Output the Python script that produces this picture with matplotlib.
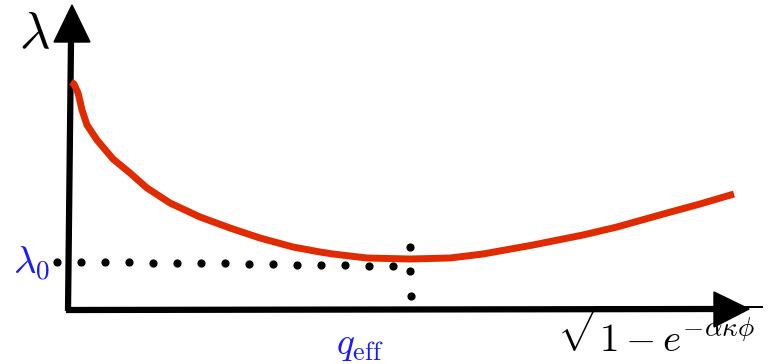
import numpy as np
import matplotlib.pyplot as plt

plt.rcParams['mathtext.fontset'] = 'cm'

# red curve (pixel-like units, y grows downward)
curve_x = [71, 74, 78, 80, 82, 87, 97, 113, 130, 147, 170, 200, 230, 260, 293,
           320, 333, 367, 410, 450, 483, 533, 583, 617, 667, 700, 734]
curve_y = [82, 84, 93, 101, 110, 125, 140, 159, 173, 188, 203, 217, 228, 238,
           247, 252, 254, 258, 259, 258, 254, 245, 235, 227, 213, 204, 194]

# dotted guide lines
dots_h_x = [57, 81, 105, 129, 153, 177, 201, 225, 249, 273, 297, 321, 345, 369, 393]
dots_h_y = [262, 262, 262, 262, 263, 263, 263, 263, 264, 264, 265, 265, 265, 266, 266]
dots_v_x = [410, 410, 411]
dots_v_y = [247, 271, 296]

fig = plt.figure(figsize=(7.83, 3.64), dpi=100)
ax = fig.add_axes([0, 0, 1, 1])
ax.set_xlim(0, 783)
ax.set_ylim(364, 0)
ax.axis('off')

# axes drawn as thick arrows
ax.plot([68, 71], [311, 40], color='black', lw=4.5, solid_capstyle='butt')
ax.plot([66, 718], [310, 309], color='black', lw=4.5, solid_capstyle='butt')
ax.fill([72, 54, 90], [5, 42, 42], color='black')
ax.fill([749, 714, 714], [309, 292, 327], color='black')

ax.plot(curve_x, curve_y, color='#e02a00', lw=5, solid_capstyle='butt',
        solid_joinstyle='round')

ax.scatter(dots_h_x, dots_h_y, s=24, color='black', zorder=3)
ax.scatter(dots_v_x, dots_v_y, s=24, color='black', zorder=3)

ax.text(34, 33, r'$\lambda$', fontsize=38, color='black', ha='center', va='center')
ax.text(32, 264, r'$\lambda_0$', fontsize=28, color='#1a1aff', ha='center', va='center')
ax.text(360, 345, r'$q_{\mathrm{eff}}$', fontsize=27, color='#1a1aff', ha='center', va='center')
ax.text(660, 334, r'$\sqrt{1-e^{-\alpha\kappa\phi}}$', fontsize=28, color='black',
        ha='center', va='center')

fig.savefig('out.png', dpi=100)
